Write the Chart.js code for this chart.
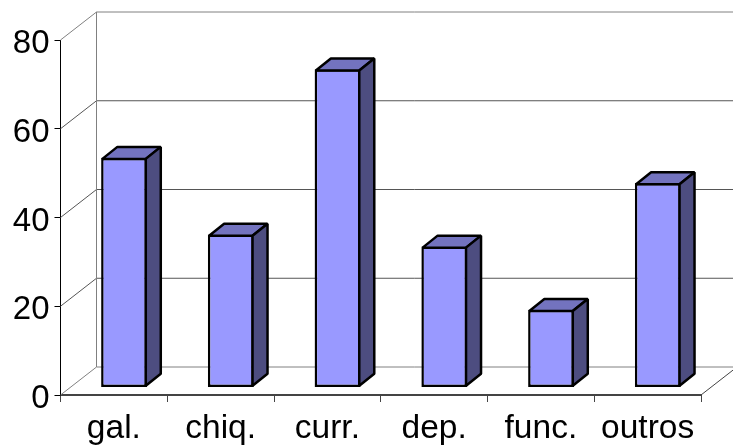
<!DOCTYPE html>
<html>
<head>
<meta charset="utf-8">
<title>chart</title>
<script src="https://cdn.jsdelivr.net/npm/chart.js@4/dist/chart.umd.min.js"></script>
<style>
  html, body { margin: 0; padding: 0; background: #fff; overflow: hidden; }
  #wrap { width: 733px; height: 446px; }
</style>
</head>
<body>
<div id="wrap"><canvas id="myChart" width="733" height="446"></canvas></div>
<script>
// Data
const categories = ["gal.", "chiq.", "curr.", "dep.", "func.", "outros"];
const values = [51.8, 34.5, 71.7, 31.8, 17.5, 46.1];
const yTicks = [0, 20, 40, 60, 80];

// 3D look: how far the back wall and the bars are pushed
const wallDx = 36, wallDy = -28;
const barShiftX = 10.2, barShiftY = -7.5;
const barDx = 15, barDy = -12;
const edge = 2.5;

const walls3d = {
  id: "walls3d",
  beforeDatasetsDraw(chart) {
    const { ctx, scales } = chart;
    const left = scales.x.left, right = scales.x.right;
    const y0 = scales.y.getPixelForValue(0);
    const yTop = scales.y.getPixelForValue(80);
    ctx.save();
    ctx.lineWidth = 1;
    yTicks.forEach((v) => {
      const y = scales.y.getPixelForValue(v);
      ctx.strokeStyle = v == 0 || v == 80 ? "#808080" : "#555555";
      ctx.beginPath();
      ctx.moveTo(left, y);
      ctx.lineTo(left + wallDx, y + wallDy);
      ctx.lineTo(chart.width, y + wallDy);
      ctx.stroke();
    });
    // back wall edge and right side of the floor
    ctx.strokeStyle = "#808080";
    ctx.beginPath();
    ctx.moveTo(left + wallDx, yTop + wallDy);
    ctx.lineTo(left + wallDx, y0 + wallDy);
    ctx.stroke();
    ctx.strokeStyle = "#444444";
    ctx.beginPath();
    ctx.moveTo(right, y0);
    ctx.lineTo(right + wallDx, y0 + wallDy);
    ctx.stroke();
    ctx.restore();
  },
  beforeDatasetDraw(chart) {
    chart.ctx.save();
    chart.ctx.translate(barShiftX, barShiftY);
  },
  afterDatasetDraw(chart, args) {
    const ctx = chart.ctx;
    ctx.lineWidth = edge;
    ctx.strokeStyle = "#000000";
    ctx.lineJoin = "bevel";
    args.meta.data.forEach((bar) => {
      const l = bar.x - bar.width / 2 + edge / 2, r = bar.x + bar.width / 2 - edge / 2;
      const t = bar.y + edge / 2, b = bar.base - edge / 2;
      // top face
      ctx.fillStyle = "#7373BF";
      ctx.beginPath();
      ctx.moveTo(l, t);
      ctx.lineTo(l + barDx, t + barDy);
      ctx.lineTo(r + barDx, t + barDy);
      ctx.lineTo(r, t);
      ctx.closePath();
      ctx.fill();
      ctx.stroke();
      // side face
      ctx.fillStyle = "#4D4D80";
      ctx.beginPath();
      ctx.moveTo(r, t);
      ctx.lineTo(r + barDx, t + barDy);
      ctx.lineTo(r + barDx, b + barDy);
      ctx.lineTo(r, b);
      ctx.closePath();
      ctx.fill();
      ctx.stroke();
    });
    ctx.restore();
  },
};

const data = {
  labels: categories,
  datasets: [
    {
      data: values,
      backgroundColor: "#9999FF",
      borderColor: "#000000",
      borderWidth: edge,
      borderSkipped: false,
      categoryPercentage: 1,
      barPercentage: 0.43,
    },
  ],
};

const config = {
  type: "bar",
  data: data,
  plugins: [walls3d],
  options: {
    responsive: false,
    animation: false,
    layout: { padding: { top: 40, right: 32, bottom: 0, left: 0 } },
    scales: {
      x: {
        afterFit: (scale) => { scale.height = 51; },
        ticks: {
          color: "#000000",
          font: { family: "Liberation Sans", size: 33.5 },
          padding: 7,
          maxRotation: 0,
          autoSkip: false,
        },
        grid: { drawOnChartArea: false, color: "#444444", tickLength: 7, lineWidth: 1 },
        border: { color: "#444444", width: 2 },
      },
      y: {
        min: 0,
        max: 80,
        afterFit: (scale) => { scale.width = 60.5; },
        afterBuildTicks: (scale) => { scale.ticks = yTicks.map((v) => ({ value: v })); },
        ticks: {
          color: "#000000",
          font: { family: "Liberation Sans", size: 33 },
          padding: 5,
          labelOffset: 4,
        },
        grid: { drawOnChartArea: false, color: "#000000", tickLength: 6 },
        border: { color: "#000000", width: 1 },
      },
    },
    plugins: {
      legend: { display: false },
      tooltip: { enabled: false },
    },
  },
};

new Chart(document.getElementById("myChart"), config);
</script>
</body>
</html>
